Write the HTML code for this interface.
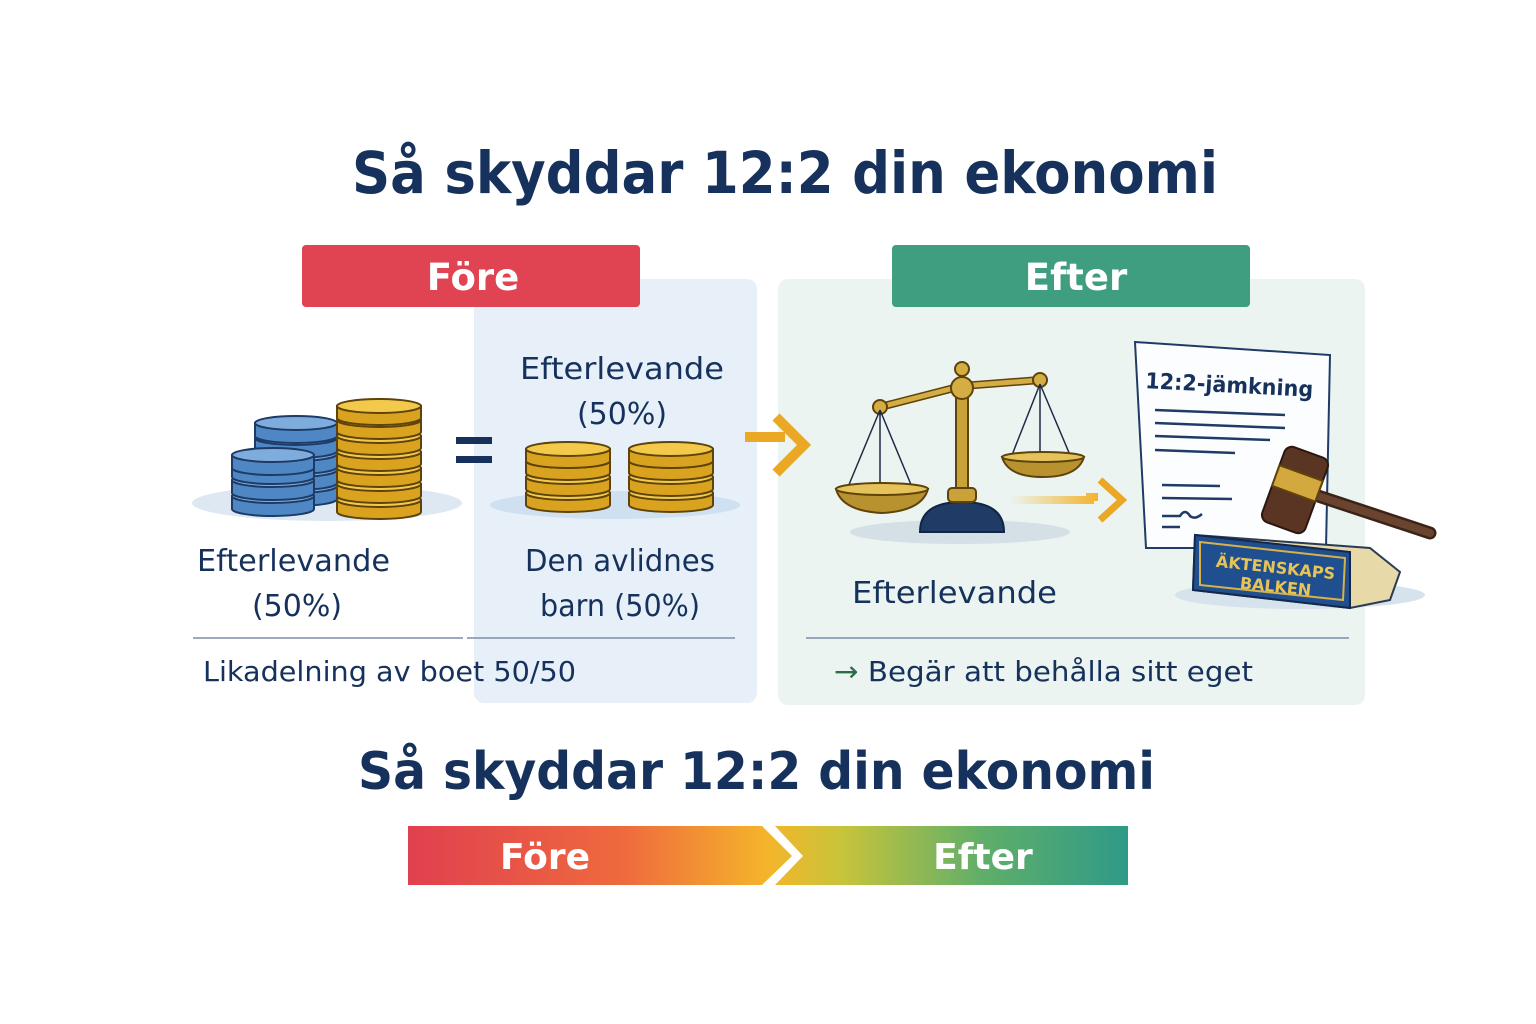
<!DOCTYPE html>
<html><head><meta charset="utf-8"><style>
html,body{margin:0;padding:0;background:#fff}
svg{display:block}
text{font-family:"DejaVu Sans","Liberation Sans",sans-serif;fill:#16325c}
</style></head><body>
<svg width="1536" height="1024" viewBox="0 0 1536 1024" xmlns="http://www.w3.org/2000/svg">
<defs>
<g id="gl"><path d="M-42,0 v12 a42,7 0 0 0 84,0 v-12 z" fill="#d9a21f" stroke="#5e430a" stroke-width="2"/><ellipse rx="42" ry="7" fill="#f3c94b" stroke="#5e430a" stroke-width="2"/></g>
<g id="bl"><path d="M-41,0 v13 a41,7 0 0 0 82,0 v-13 z" fill="#4f86c4" stroke="#1d3b66" stroke-width="2"/><ellipse rx="41" ry="7" fill="#7eacdc" stroke="#1d3b66" stroke-width="2"/></g>
<linearGradient id="bar" x1="0" x2="1"><stop offset="0" stop-color="#e0404f"/><stop offset="0.3" stop-color="#ef6a3e"/><stop offset="0.5" stop-color="#f4b52a"/><stop offset="0.6" stop-color="#c9c43a"/><stop offset="0.8" stop-color="#5fae6a"/><stop offset="1" stop-color="#2f9a88"/></linearGradient>
<linearGradient id="arr" x1="0" x2="1"><stop offset="0" stop-color="#f2b32a" stop-opacity="0"/><stop offset="1" stop-color="#f2b32a"/></linearGradient>
</defs>
<text x="352" y="193" font-size="58" font-weight="bold" textLength="866" lengthAdjust="spacingAndGlyphs">Så skyddar 12:2 din ekonomi</text>
<rect x="474" y="279" width="283" height="424" rx="10" fill="#e7f0f8"/>
<rect x="778" y="279" width="587" height="426" rx="10" fill="#ebf4f1"/>
<rect x="302" y="245" width="338" height="62" rx="4" fill="#e04452"/>
<text x="473" y="290" text-anchor="middle" font-size="37" font-weight="bold" style="fill:#fff">Före</text>
<rect x="892" y="245" width="358" height="62" rx="4" fill="#3f9e7f"/>
<text x="1076" y="290" text-anchor="middle" font-size="37" font-weight="bold" style="fill:#fff">Efter</text>
<!-- left coins -->
<ellipse cx="327" cy="503" rx="135" ry="18" fill="#dde8f3"/>
<use href="#bl" x="296" y="486"/><use href="#bl" x="296" y="470"/><use href="#bl" x="296" y="454"/><use href="#bl" x="296" y="438"/><use href="#bl" x="296" y="423"/>
<use href="#bl" x="273" y="496"/><use href="#bl" x="273" y="480"/><use href="#bl" x="273" y="464"/><use href="#bl" x="273" y="455"/>
<use href="#gl" x="379" y="500"/><use href="#gl" x="379" y="484"/><use href="#gl" x="379" y="468"/><use href="#gl" x="379" y="452"/><use href="#gl" x="379" y="436"/><use href="#gl" x="379" y="420"/><use href="#gl" x="379" y="406"/>
<rect x="456" y="437" width="36" height="7" fill="#16325c"/><rect x="456" y="456" width="36" height="7" fill="#16325c"/>
<ellipse cx="615" cy="505" rx="125" ry="14" fill="#cfe0f0"/>
<use href="#gl" x="568" y="493"/><use href="#gl" x="568" y="477"/><use href="#gl" x="568" y="461"/><use href="#gl" x="568" y="449"/>
<use href="#gl" x="671" y="493"/><use href="#gl" x="671" y="477"/><use href="#gl" x="671" y="461"/><use href="#gl" x="671" y="449"/>
<text x="622" y="379" text-anchor="middle" font-size="30" textLength="204" lengthAdjust="spacingAndGlyphs">Efterlevande</text>
<text x="622" y="424" text-anchor="middle" font-size="30">(50%)</text>
<text x="197" y="571" font-size="30" textLength="193" lengthAdjust="spacingAndGlyphs">Efterlevande</text>
<text x="297" y="616" text-anchor="middle" font-size="30">(50%)</text>
<text x="620" y="571" text-anchor="middle" font-size="30" textLength="190" lengthAdjust="spacingAndGlyphs">Den avlidnes</text>
<text x="620" y="616" text-anchor="middle" font-size="30" textLength="160" lengthAdjust="spacingAndGlyphs">barn (50%)</text>
<line x1="193" y1="638" x2="463" y2="638" stroke="#7d8ea6" stroke-width="1.5"/>
<line x1="467" y1="638" x2="735" y2="638" stroke="#7d8ea6" stroke-width="1.5"/>
<text x="203" y="681" font-size="28" textLength="373" lengthAdjust="spacingAndGlyphs">Likadelning av boet 50/50</text>
<!-- arrow -->
<path d="M745,437 h40 M776,417 l28,28 l-28,28" fill="none" stroke="#eaa824" stroke-width="10"/>
<!-- scale -->
<ellipse cx="960" cy="532" rx="110" ry="12" fill="#d4dfe6"/>
<path d="M920,532 q0,-30 42,-30 q42,0 42,30 z" fill="#1f3b66" stroke="#112544" stroke-width="2"/>
<rect x="956" y="380" width="12" height="110" fill="#c9a23a" stroke="#5e430a" stroke-width="2"/>
<rect x="948" y="488" width="28" height="14" rx="4" fill="#c9a23a" stroke="#5e430a" stroke-width="2"/>
<path d="M880,407 L962,386 L1040,380" fill="none" stroke="#5e430a" stroke-width="8"/>
<path d="M880,407 L962,386 L1040,380" fill="none" stroke="#d4ad45" stroke-width="5"/>
<circle cx="962" cy="388" r="11" fill="#d4ad45" stroke="#5e430a" stroke-width="2"/>
<circle cx="962" cy="369" r="7" fill="#d4ad45" stroke="#5e430a" stroke-width="2"/>
<circle cx="880" cy="407" r="7" fill="#d4ad45" stroke="#5e430a" stroke-width="2"/>
<circle cx="1040" cy="380" r="7" fill="#d4ad45" stroke="#5e430a" stroke-width="2"/>
<path d="M880,410 L848,487 M880,410 L912,487 M880,410 V487 M1040,384 L1012,455 M1040,384 L1070,455 M1040,384 V455" stroke="#1f2a44" stroke-width="1.5"/>
<path d="M836,489 h92 q-6,22 -46,24 q-40,-2 -46,-24 z" fill="#b8922e" stroke="#5e430a" stroke-width="2"/>
<ellipse cx="882" cy="489" rx="46" ry="6" fill="#e6c35a" stroke="#5e430a" stroke-width="2"/>
<path d="M1002,457 h82 q-6,20 -41,20 q-35,0 -41,-20 z" fill="#b8922e" stroke="#5e430a" stroke-width="2"/>
<ellipse cx="1043" cy="457" rx="41" ry="5" fill="#e6c35a" stroke="#5e430a" stroke-width="2"/>
<path d="M1010,500 h80 v-3 l8,0" stroke="url(#arr)" stroke-width="8" fill="none"/>
<path d="M1100,480 l22,20 l-22,20" fill="none" stroke="#eaa824" stroke-width="7"/>
<!-- document -->
<path d="M1135,342 L1330,355 L1326,548 L1146,548 Z" fill="#fbfdff" stroke="#1f3b66" stroke-width="2"/>
<text x="1145" y="388" font-size="22" font-weight="bold" transform="rotate(3 1143 388)" textLength="168" lengthAdjust="spacingAndGlyphs">12:2-jämkning</text>
<path d="M1155,410 l130,5 M1155,423 l130,5 M1155,436 l115,4 M1155,450 l80,3 M1162,485 l58,1 M1162,498 l70,1 M1162,516 l18,0 q5,-8 10,0 q5,4 12,-2 M1162,527 l18,0" stroke="#1f3b66" stroke-width="2.5" fill="none"/>
<!-- book -->
<ellipse cx="1300" cy="595" rx="125" ry="14" fill="#d6e3ec"/>
<path d="M1195,535 L1370,548 L1400,572 L1390,600 L1350,608 L1193,590 Z" fill="#e7d9a8" stroke="#2b3b55" stroke-width="2"/>
<path d="M1195,535 L1350,552 L1350,608 L1193,590 Z" fill="#1f4f8f" stroke="#13284a" stroke-width="2"/>
<path d="M1200,542 L1345,558 L1343,600 L1200,585 Z" fill="none" stroke="#d8b14a" stroke-width="2"/>
<text x="1275" y="573" text-anchor="middle" font-size="16" font-weight="bold" style="fill:#e8c456" transform="rotate(6 1275 573)">ÄKTENSKAPS</text>
<text x="1275" y="592" text-anchor="middle" font-size="16" font-weight="bold" style="fill:#e8c456" transform="rotate(6 1275 592)">BALKEN</text>
<!-- gavel -->
<path d="M1300,490 L1430,533" stroke="#3a2418" stroke-width="13" stroke-linecap="round"/>
<path d="M1300,490 L1430,533" stroke="#6b4430" stroke-width="8" stroke-linecap="round"/>
<g transform="rotate(20 1295 490)"><rect x="1272" y="450" width="46" height="80" rx="8" fill="#5a3524" stroke="#2a170e" stroke-width="2"/><rect x="1272" y="472" width="46" height="22" fill="#d3a83e" stroke="#5e430a" stroke-width="2"/></g>
<text x="852" y="603" font-size="30" textLength="205" lengthAdjust="spacingAndGlyphs">Efterlevande</text>
<line x1="806" y1="638" x2="1349" y2="638" stroke="#7d8ea6" stroke-width="1.5"/>
<text x="834" y="681" font-size="28" textLength="419" lengthAdjust="spacingAndGlyphs"><tspan style="fill:#2e6b48">→</tspan> Begär att behålla sitt eget</text>
<text x="358" y="789" font-size="52" font-weight="bold" textLength="797" lengthAdjust="spacingAndGlyphs">Så skyddar 12:2 din ekonomi</text>
<path d="M408,826 H1128 V885 H408 Z" fill="url(#bar)"/>
<path d="M762,826 L792,856 L762,885 L775,885 L803,856 L775,826 Z" fill="#fff"/>
<text x="545" y="869" text-anchor="middle" font-size="36" font-weight="bold" style="fill:#fff">Före</text>
<text x="983" y="869" text-anchor="middle" font-size="36" font-weight="bold" style="fill:#fff">Efter</text>
</svg>
</body></html>
